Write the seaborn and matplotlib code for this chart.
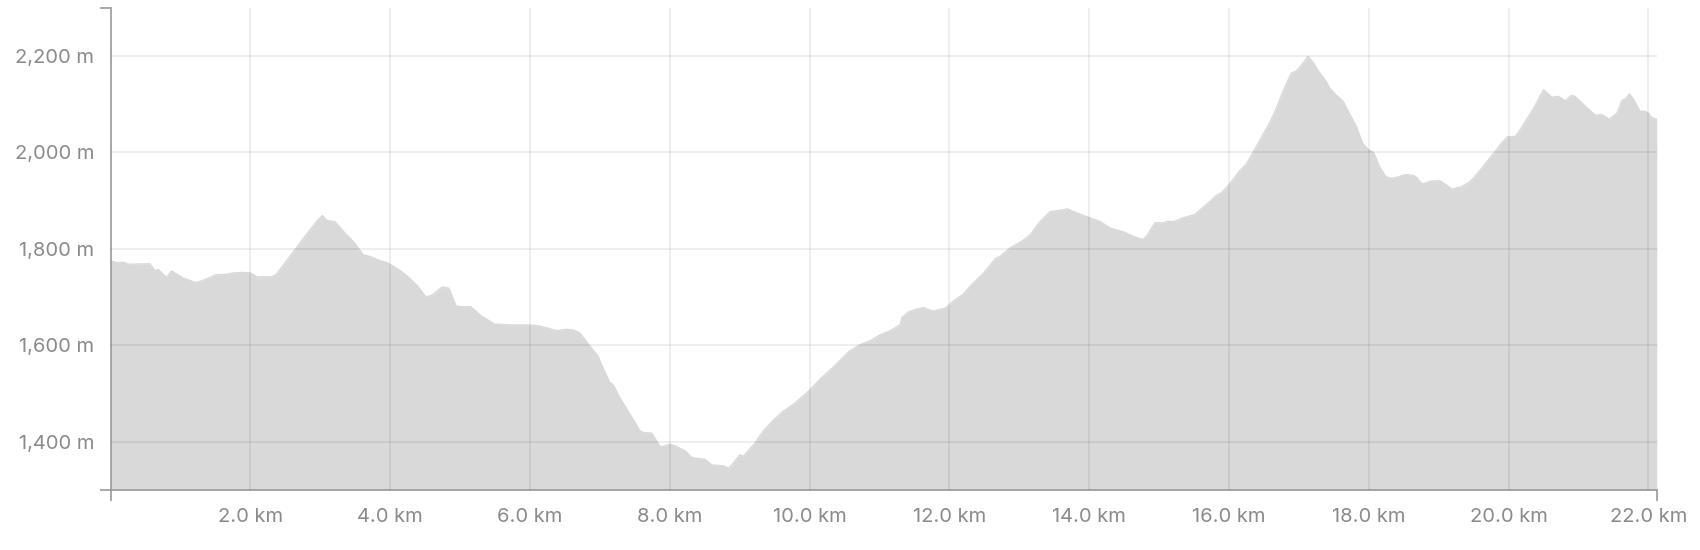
import pandas as pd
import seaborn as sns
import matplotlib.pyplot as plt
from matplotlib.ticker import FuncFormatter

# elevation profile
dist_km = [0.00, 0.09, 0.18, 0.25, 0.56, 0.63, 0.68, 0.80, 0.87, 1.04, 1.22, 1.35, 1.50, 1.64,
           1.76, 1.88, 2.00, 2.09, 2.30, 2.37, 2.64, 2.78, 2.97, 3.03, 3.09, 3.21, 3.35, 3.49,
           3.61, 3.73, 3.84, 3.96, 4.13, 4.27, 4.39, 4.51, 4.60, 4.68, 4.75, 4.84, 4.94, 4.99,
           5.15, 5.30, 5.49, 5.75, 6.00, 6.13, 6.27, 6.37, 6.51, 6.61, 6.71, 6.85, 6.97, 7.04,
           7.14, 7.19, 7.28, 7.43, 7.57, 7.62, 7.74, 7.86, 7.90, 8.00, 8.10, 8.22, 8.31, 8.36,
           8.50, 8.60, 8.77, 8.84, 8.91, 9.00, 9.05, 9.20, 9.34, 9.48, 9.63, 9.77, 10.00, 10.15,
           10.33, 10.57, 10.72, 10.86, 11.00, 11.15, 11.29, 11.32, 11.41, 11.51, 11.63, 11.70,
           11.77, 11.94, 12.06, 12.20, 12.32, 12.49, 12.66, 12.73, 12.87, 13.04, 13.16, 13.30,
           13.44, 13.54, 13.64, 13.68, 13.83, 14.01, 14.15, 14.30, 14.49, 14.63, 14.76, 14.82,
           14.94, 15.06, 15.13, 15.20, 15.34, 15.51, 15.68, 15.82, 15.89, 16.00, 16.15, 16.25,
           16.34, 16.46, 16.58, 16.68, 16.77, 16.89, 16.96, 17.06, 17.13, 17.20, 17.30, 17.39,
           17.44, 17.53, 17.63, 17.72, 17.82, 17.91, 17.99, 18.07, 18.15, 18.24, 18.31, 18.40,
           18.52, 18.64, 18.69, 18.76, 18.88, 19.02, 19.10, 19.19, 19.31, 19.43, 19.50, 19.60,
           19.69, 19.81, 19.88, 19.98, 20.10, 20.21, 20.36, 20.50, 20.55, 20.62, 20.71, 20.81,
           20.90, 20.95, 21.07, 21.17, 21.24, 21.33, 21.44, 21.55, 21.62, 21.67, 21.73, 21.79,
           21.88, 21.95, 22.00, 22.05, 22.12]
elev_m = [1775, 1771, 1772, 1768, 1769, 1755, 1757, 1741, 1754, 1739, 1730, 1736, 1746, 1747,
          1750, 1751, 1750, 1742, 1742, 1747, 1799, 1826, 1861, 1869, 1859, 1856, 1833, 1812,
          1788, 1783, 1776, 1771, 1756, 1740, 1723, 1700, 1704, 1714, 1721, 1718, 1682, 1680,
          1680, 1661, 1644, 1642, 1642, 1640, 1635, 1630, 1633, 1632, 1626, 1599, 1578, 1554,
          1523, 1518, 1492, 1457, 1423, 1419, 1418, 1390, 1390, 1395, 1390, 1381, 1368, 1366,
          1364, 1352, 1350, 1345, 1356, 1373, 1370, 1394, 1423, 1445, 1464, 1478, 1507, 1530,
          1554, 1588, 1601, 1609, 1621, 1630, 1642, 1657, 1669, 1674, 1678, 1674,
          1671, 1677, 1692, 1706, 1726, 1750, 1780, 1785, 1802, 1816, 1830, 1857,
          1877, 1879, 1881, 1883, 1874, 1864, 1857, 1843, 1835, 1826, 1819, 1826,
          1854, 1854, 1857, 1856, 1864, 1871, 1892, 1911, 1916, 1933, 1961, 1976,
          1999, 2030, 2061, 2092, 2126, 2164, 2168, 2185, 2199, 2187, 2164, 2147,
          2133, 2119, 2106, 2081, 2054, 2019, 2006, 1999, 1971, 1950, 1946, 1948,
          1954, 1952, 1947, 1934, 1940, 1941, 1933, 1924, 1928, 1937, 1947, 1964,
          1981, 2002, 2016, 2032, 2033, 2057, 2092, 2130, 2123, 2114, 2116, 2107,
          2118, 2116, 2099, 2086, 2077, 2078, 2069, 2081, 2107, 2111, 2121, 2109,
          2085, 2085, 2081, 2072, 2068]

x_ticks = [2, 4, 6, 8, 10, 12, 14, 16, 18, 20, 22]
y_ticks = [1400, 1600, 1800, 2000, 2200]
y_min, y_max = 1300, 2300

df = pd.DataFrame({'km': dist_km, 'elev': elev_m})

sns.set_theme(style='white')
plt.rcParams['font.family'] = ['Inter', 'DejaVu Sans']

fill_col = '#d9d9d9'
axis_col = '#999999'
label_col = '#8a8a8a'

fig = plt.figure(figsize=(17, 5.5), dpi=100)
ax = fig.add_axes([0.0651, 0.1091, 0.9095, 0.8771])

ax.fill_between(df['km'], df['elev'], y_min, color=fill_col, lw=0, zorder=1)
sns.lineplot(data=df, x='km', y='elev', ax=ax, color=fill_col, lw=1, zorder=1)

ax.set_xlim(0, df['km'].max())
ax.set_ylim(y_min, y_max)
ax.set_xticks(x_ticks)
ax.set_yticks(y_ticks)
ax.xaxis.set_major_formatter(FuncFormatter(lambda v, p: f'{v:.1f} km'))
ax.yaxis.set_major_formatter(FuncFormatter(lambda v, p: f'{v:,.0f} m'))

# outer ticks at the axis ends, like a d3 domain path
ax.set_xticks([0, df['km'].max()], minor=True)
ax.set_yticks([y_min, y_max], minor=True)
ax.tick_params(axis='both', which='both', bottom=True, left=True)
ax.tick_params(axis='both', which='major', length=0, labelsize=14.5, labelcolor=label_col)
ax.tick_params(axis='x', which='major', pad=13)
ax.tick_params(axis='y', which='major', pad=12)
ax.tick_params(axis='both', which='minor', length=8, width=1.2, color=axis_col)

ax.set_axisbelow(False)
ax.grid(True, which='major', color='black', alpha=0.08, lw=1.2)
ax.grid(False, which='minor')

for side in ['top', 'right']:
    ax.spines[side].set_visible(False)
for side in ['left', 'bottom']:
    ax.spines[side].set_color(axis_col)
    ax.spines[side].set_linewidth(1.2)

ax.set_xlabel('')
ax.set_ylabel('')

plt.savefig('out.png', dpi=100)
